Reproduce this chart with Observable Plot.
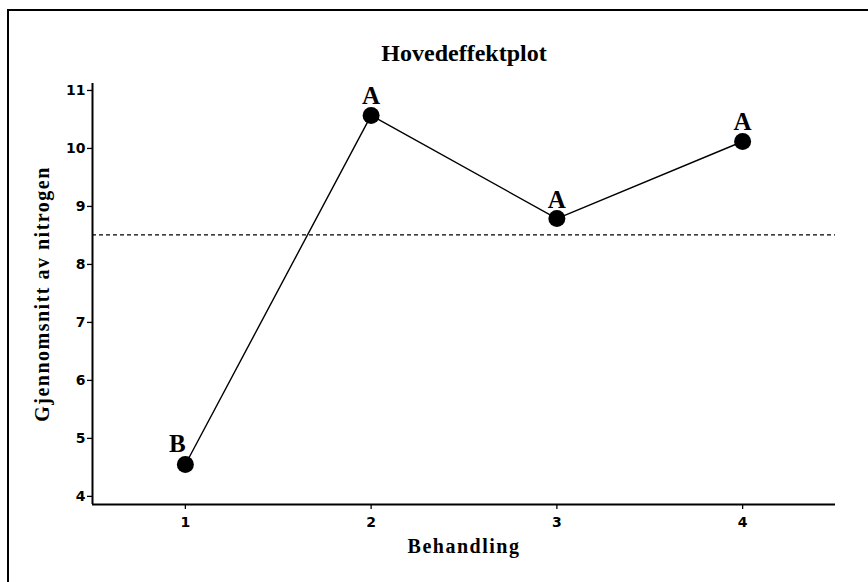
<!DOCTYPE html>
<html>
<head>
<meta charset="utf-8">
<script src="https://cdn.jsdelivr.net/npm/d3@7"></script>
<script src="https://cdn.jsdelivr.net/npm/@observablehq/plot@0.6"></script>
<style>
  html, body { margin: 0; padding: 0; background: #fff; }
  #wrap { position: relative; width: 868px; height: 582px; overflow: hidden; }
  #border { position: absolute; left: 7px; top: 9px; width: 900px; height: 600px;
            border-left: 2px solid #000; border-top: 2px solid #000; pointer-events: none; }
  #chart { position: absolute; left: 0; top: 0; }
</style>
</head>
<body>
<div id="wrap"><div id="chart"></div><div id="border"></div></div>
<script>
const behandling = [1, 2, 3, 4];
const gjennomsnitt = [4.55, 10.57, 8.79, 10.12];
const grupper = ["B", "A", "A", "A"];
const totalMean = 8.51;
const yTicks = [4, 5, 6, 7, 8, 9, 10, 11];
const xTicks = [1, 2, 3, 4];
const title = "Hovedeffektplot";
const xLabel = "Behandling";
const yLabel = "Gjennomsnitt av nitrogen";

const data = behandling.map((b, i) => ({b, m: gjennomsnitt[i], g: grupper[i]}));
const serif = "'Liberation Serif', 'Times New Roman', serif";
const sans = "'DejaVu Sans', 'Noto Sans', sans-serif";
const xDom = [0.5, 4.5];
const yDom = [3.86, 11.12];

const chart = Plot.plot({
  width: 868,
  height: 582,
  marginLeft: 92,
  marginRight: 33,
  marginTop: 83,
  marginBottom: 78,
  x: {domain: xDom, axis: null},
  y: {domain: yDom, axis: null},
  style: {background: "transparent"},
  marks: [
    Plot.axisY({ticks: yTicks, tickSize: 5, tickPadding: 2, strokeWidth: 1.3, fontSize: 14,
      fontFamily: sans, fontWeight: "bold", label: null, tickFormat: d => String(d)}),
    Plot.axisX({ticks: xTicks, tickSize: 5, tickPadding: 8, strokeWidth: 1.3, fontSize: 14,
      fontFamily: sans, fontWeight: "bold", label: null, tickFormat: d => String(d)}),
    Plot.ruleX([xDom[0]], {strokeWidth: 2}),
    Plot.ruleY([yDom[0]], {strokeWidth: 2}),
    Plot.ruleY([totalMean], {strokeDasharray: "4,3", strokeWidth: 1.2}),
    Plot.line(data, {x: "b", y: "m", stroke: "#000", strokeWidth: 1.4}),
    Plot.dot(data, {x: "b", y: "m", r: 8.5, fill: "#000", stroke: "none"}),
    Plot.text(data.filter(d => d.g !== "B"), {x: "b", y: "m", text: "g", dy: -19, fontFamily: serif,
      fontWeight: "bold", fontSize: 25, fill: "#000"}),
    Plot.text(data.filter(d => d.g === "B"), {x: "b", y: "m", text: "g", dy: -20, dx: -8, fontFamily: serif,
      fontWeight: "bold", fontSize: 25, fill: "#000"}),
    Plot.text([title], {frameAnchor: "top", dy: -40, fontFamily: serif, fontWeight: "bold",
      fontSize: 24, fill: "#000"}),
    Plot.text([xLabel], {frameAnchor: "bottom", dy: 48, fontFamily: serif, fontWeight: "bold",
      fontSize: 20, fill: "#000"}),
    Plot.text([yLabel], {frameAnchor: "left", textAnchor: "middle", dx: -50, rotate: -90, fontFamily: serif,
      fontWeight: "bold", fontSize: 20, fill: "#000"})
  ]
});
document.getElementById("chart").appendChild(chart);
const svg = d3.select(chart);
svg.selectAll("text").filter(function() { return this.textContent === xLabel || this.textContent === yLabel; })
  .attr("letter-spacing", "1.5px");
svg.selectAll("text").filter(function() { return /^\d+$/.test(this.textContent); })
  .style("font-size", "14px").style("font-weight", "bold").style("font-family", sans);
</script>
</body>
</html>
